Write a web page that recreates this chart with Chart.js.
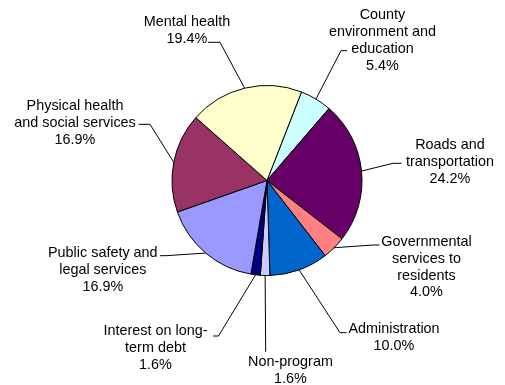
<!DOCTYPE html>
<html>
<head>
<meta charset="utf-8">
<script src="https://cdn.jsdelivr.net/npm/chart.js@4"></script>
<style>
  html, body { margin: 0; padding: 0; background: #fff; }
  #wrap { width: 505px; height: 385px; position: relative; }
</style>
</head>
<body>
<div id="wrap"><canvas id="pie" width="505" height="385"></canvas></div>
<script>
// ─── DATA ────────────────────────────────────────────
const categories = [
  ['County', 'environment and', 'education'],
  ['Roads and', 'transportation'],
  ['Governmental', 'services to', 'residents'],
  ['Administration'],
  ['Non-program'],
  ['Interest on long-', 'term debt'],
  ['Public safety and', 'legal services'],
  ['Physical health', 'and social services'],
  ['Mental health']
];
const shares = [5.4, 24.2, 4.0, 10.0, 1.6, 1.6, 16.9, 16.9, 19.4];
const sliceColors = ['#CCFFFF', '#660066', '#FF8080', '#0066CC', '#CCCCFF', '#000080', '#9999FF', '#993366', '#FFFFCC'];

// ─── LABEL LAYOUT (text centre x, first line y, elbow, text-side end of leader) ──
const labelLayout = [
  { x: 382.5, y: 15.5, elbow: [341, 50.7], end: [347, 50.7] },
  { x: 450,   y: 145,  elbow: [393, 163.3], end: [401.5, 163.3] },
  { x: 426.5, y: 242,  elbow: [373, 245],   end: [379.5, 245] },
  { x: 394,   y: 329.5, elbow: [340, 332.7], end: [346.5, 332.7] },
  { x: 290.5, y: 362.5, elbow: [265.7, 351.7], end: [265.7, 351.7] },
  { x: 155.5, y: 331,  elbow: [218.5, 336], end: [213, 336] },
  { x: 102.8, y: 253,  elbow: [166, 255.7], end: [160, 255.7] },
  { x: 75,    y: 106,  elbow: [150, 124.3], end: [138.5, 124.3] },
  { x: 187,   y: 22,   elbow: [220, 42.3],  end: [208, 42.3] }
];
const LINE_H = 16.8;

// ─── LABEL PLUGIN ────────────────────────────────────
const labelPlugin = {
  id: 'sliceLabels',
  afterDatasetsDraw(chart) {
    const ctx = chart.ctx;
    const meta = chart.getDatasetMeta(0);
    ctx.save();
    meta.data.forEach((arc, i) => {
      const p = arc.getProps(['x', 'y', 'startAngle', 'endAngle', 'outerRadius'], true);
      const mid = (p.startAngle + p.endAngle) / 2;
      const px = p.x + Math.cos(mid) * p.outerRadius;
      const py = p.y + Math.sin(mid) * p.outerRadius;
      const L = labelLayout[i];

      ctx.strokeStyle = '#000';
      ctx.lineWidth = 1;
      ctx.beginPath();
      ctx.moveTo(px, py);
      ctx.lineTo(L.elbow[0], L.elbow[1]);
      ctx.lineTo(L.end[0], L.end[1]);
      ctx.stroke();

      const lines = [...categories[i], shares[i].toFixed(1) + '%'];
      ctx.fillStyle = '#000';
      ctx.font = '14.4px "Liberation Sans", Arial, sans-serif';
      ctx.textAlign = 'center';
      ctx.textBaseline = 'middle';
      lines.forEach((t, k) => ctx.fillText(t, L.x, L.y + k * LINE_H));
    });
    ctx.restore();
  }
};

// ─── CHART ───────────────────────────────────────────
new Chart(document.getElementById('pie').getContext('2d'), {
  type: 'pie',
  data: {
    labels: categories.map(c => c.join(' ')),
    datasets: [{
      data: shares,
      backgroundColor: sliceColors,
      borderColor: '#000',
      borderWidth: 1
    }]
  },
  options: {
    responsive: false,
    animation: false,
    rotation: 21.3,
    layout: { padding: { left: 171.5, right: 142.5, top: 85, bottom: 109 } },
    plugins: {
      legend: { display: false },
      tooltip: { enabled: false }
    }
  },
  plugins: [labelPlugin]
});
</script>
</body>
</html>
